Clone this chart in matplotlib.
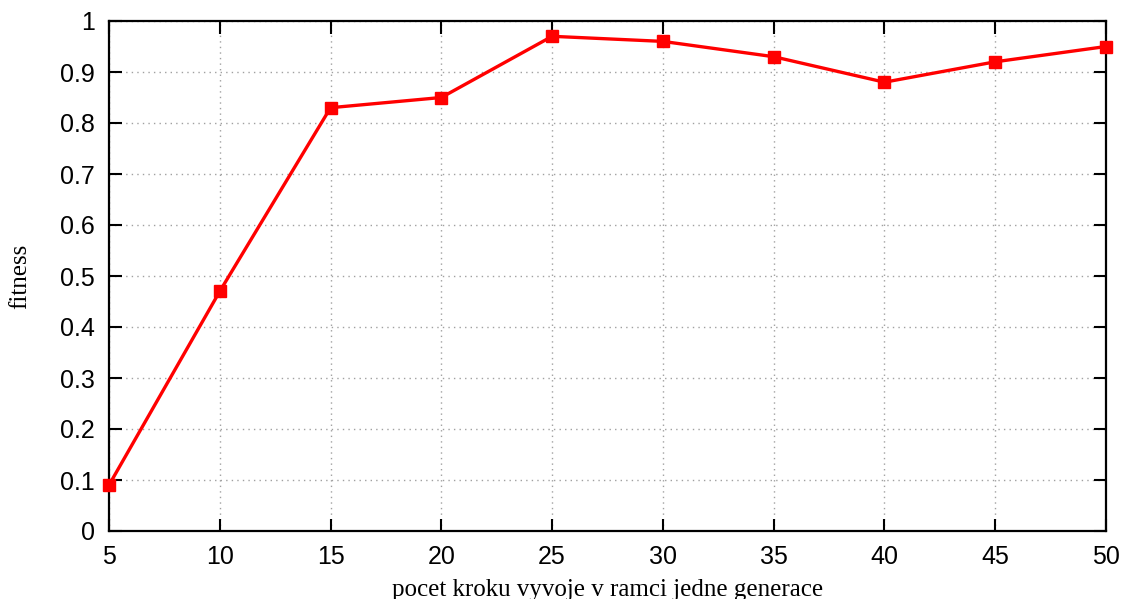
import matplotlib
matplotlib.use("Agg")
import matplotlib.pyplot as plt

steps = [5, 10, 15, 20, 25, 30, 35, 40, 45, 50]
fitness = [0.09, 0.47, 0.83, 0.85, 0.97, 0.96, 0.93, 0.88, 0.92, 0.95]
xticks = [5, 10, 15, 20, 25, 30, 35, 40, 45, 50]
yticks = [0, 0.1, 0.2, 0.3, 0.4, 0.5, 0.6, 0.7, 0.8, 0.9, 1]
ytick_labels = ["0", "0.1", "0.2", "0.3", "0.4", "0.5", "0.6", "0.7", "0.8", "0.9", "1"]

fig = plt.figure(figsize=(11.23, 5.99), dpi=100)
W, H = 1123, 599
left, right, top, bottom = 109, 1106, 21, 531
ax = fig.add_axes([left / W, 1 - bottom / H, (right - left) / W, (bottom - top) / H])

ax.plot(steps, fitness, color="#ff0000", lw=2.4, marker="s", ms=8, mec="#ff0000", mfc="#ff0000", clip_on=False, zorder=3)

ax.set_xlim(5, 50)
ax.set_ylim(0, 1)
ax.set_xticks(xticks)
ax.set_yticks(yticks)
ax.set_yticklabels(ytick_labels)
ax.grid(True, color="#a0a0a0", linestyle=(0, (1, 3)), lw=1.0)
ax.tick_params(direction="in", length=9, width=1.5, top=True, right=True,
               labelsize=18, pad=10)
for lab in ax.get_xticklabels() + ax.get_yticklabels():
    lab.set_family("Liberation Sans")
for s in ax.spines.values():
    s.set_linewidth(1.6)

ax.set_xlabel("pocet kroku vyvoje v ramci jedne generace", family="Liberation Serif", fontsize=18, labelpad=7)
ax.set_ylabel("fitness", family="Liberation Serif", fontsize=18, labelpad=21)

fig.savefig("out.png", dpi=100)
